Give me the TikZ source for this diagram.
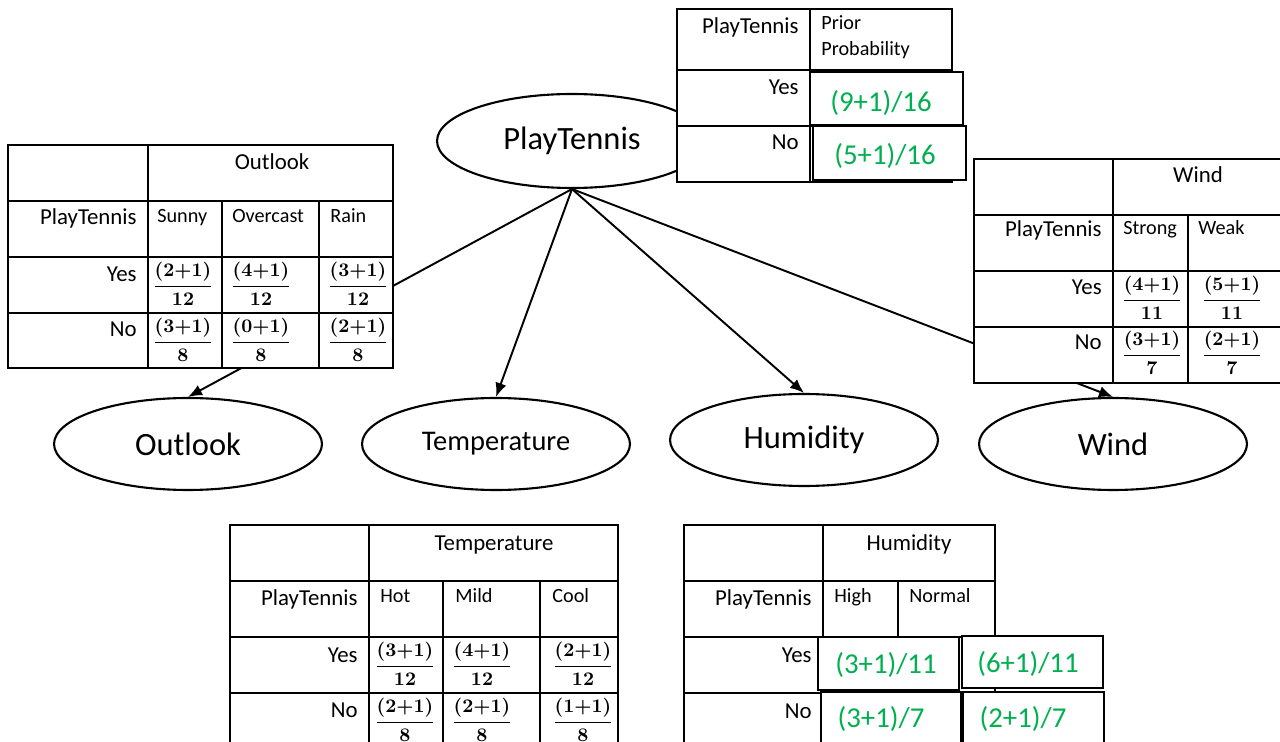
\documentclass[tikz,border=0pt]{standalone}
\usepackage{amsmath}
\usepackage{fontspec}
\setmainfont{Carlito}
\usetikzlibrary{shapes.geometric,arrows.meta}
\definecolor{probgreen}{RGB}{0,176,80}
\newcommand{\lapfrac}[2]{$\dfrac{(#1{+}1)}{#2}$}
\tikzset{
	var/.style={draw,ellipse,line width=1.2pt,inner sep=0pt,minimum width=5.36cm,minimum height=1.84cm,font=\fontsize{18.5}{22}\selectfont},
	tbl/.style={draw=black,line width=0.8pt,fill=white},
	grid/.style={draw=black,line width=0.8pt},
	txt/.style={inner sep=0pt,font=\fontsize{13}{15}\selectfont},
	sub/.style={inner sep=0pt,font=\fontsize{11.5}{13}\selectfont},
	frac/.style={inner sep=0pt,font=\fontsize{11}{13}\selectfont\boldmath},
	prob/.style={inner sep=0pt,text=probgreen,font=\fontsize{16.4}{19}\selectfont},
	link/.style={line width=1.1pt,-{Latex[length=8pt,width=6.5pt]}}
}
\begin{document}
\begin{tikzpicture}[x=0.02cm,y=-0.02cm]
	\useasboundingbox (0,0) rectangle (1280,742);
	\clip (0,0) rectangle (1280,742);
	\fill[white] (0,0) rectangle (1280,742);
	\node[var,minimum width=5.4cm,minimum height=1.88cm] (play) at (572,141) {PlayTennis};
	\node[var] (outlook) at (188,444) {Outlook};
	\node[var,font=\fontsize{16.2}{19}\selectfont] (temp) at (496,444) {Temperature};
	\node[var] (humid) at (804,440) {Humidity};
	\node[var] (wind) at (1113,444) {Wind};
	\draw[link] (play.south) -- (outlook.north);
	\draw[link] (play.south) -- (temp.north);
	\draw[link] (play.south) -- (humid.north);
	\draw[link] (play.south) -- (wind.north);

	\draw[tbl] (677,9) rectangle (952,182);
	\draw[grid] (810,9) -- (810,182);
	\draw[grid] (677,70) -- (952,70);
	\draw[grid] (677,126) -- (952,126);
	\draw[tbl] (810,72) rectangle (963,125);
	\draw[tbl] (813,126) rectangle (966,180);
	\node[txt,anchor=base east] at (799,34) {PlayTennis};
	\node[sub,anchor=base west] at (821,30) {Prior};
	\node[sub,anchor=base west] at (821,56) {Probability};
	\node[txt,anchor=base east] at (799,95) {Yes};
	\node[txt,anchor=base east] at (799,150) {No};
	\node[prob,anchor=base] at (881,112) {(9+1)/16};
	\node[prob,anchor=base] at (885,165) {(5+1)/16};

	\draw[tbl] (8,145) rectangle (393,368);
	\draw[grid] (148,145) -- (148,368);
	\draw[grid] (8,201) -- (393,201);
	\draw[grid] (8,257) -- (393,257);
	\draw[grid] (8,313) -- (393,313);
	\draw[grid] (222,201) -- (222,368);
	\draw[grid] (319,201) -- (319,368);
	\node[txt,anchor=base] at (272,170) {Outlook};
	\node[txt,anchor=base east] at (137,225) {PlayTennis};
	\node[sub,anchor=base west] at (157,223) {Sunny};
	\node[sub,anchor=base west] at (232,223) {Overcast};
	\node[sub,anchor=base west] at (330,223) {Rain};
	\node[txt,anchor=base east] at (137,282) {Yes};
	\node[txt,anchor=base east] at (137,337) {No};
	\node[frac] at (183,284) {\lapfrac{2}{12}};
	\node[frac] at (261,284) {\lapfrac{4}{12}};
	\node[frac] at (358,284) {\lapfrac{3}{12}};
	\node[frac] at (183,340) {\lapfrac{3}{8}};
	\node[frac] at (261,340) {\lapfrac{0}{8}};
	\node[frac] at (358,340) {\lapfrac{2}{8}};

	\draw[tbl] (974,159) rectangle (1300,383);
	\draw[grid] (1113,159) -- (1113,383);
	\draw[grid] (974,215) -- (1300,215);
	\draw[grid] (974,271) -- (1300,271);
	\draw[grid] (974,327) -- (1300,327);
	\draw[grid] (1188,215) -- (1188,383);
	\node[txt,anchor=base] at (1198,183) {Wind};
	\node[txt,anchor=base east] at (1102,237) {PlayTennis};
	\node[sub,anchor=base west] at (1123,235) {Strong};
	\node[sub,anchor=base west] at (1198,235) {Weak};
	\node[txt,anchor=base east] at (1102,295) {Yes};
	\node[txt,anchor=base east] at (1102,350) {No};
	\node[frac] at (1152,298) {\lapfrac{4}{11}};
	\node[frac] at (1232,298) {\lapfrac{5}{11}};
	\node[frac] at (1152,353) {\lapfrac{3}{7}};
	\node[frac] at (1232,353) {\lapfrac{2}{7}};

	\draw[tbl] (230,525) rectangle (618,760);
	\draw[grid] (369,525) -- (369,760);
	\draw[grid] (230,581) -- (618,581);
	\draw[grid] (230,637) -- (618,637);
	\draw[grid] (230,693) -- (618,693);
	\draw[grid] (443,581) -- (443,760);
	\draw[grid] (540,581) -- (540,760);
	\node[txt,anchor=base] at (494,550) {Temperature};
	\node[txt,anchor=base east] at (358,605) {PlayTennis};
	\node[sub,anchor=base west] at (380,602) {Hot};
	\node[sub,anchor=base west] at (455,602) {Mild};
	\node[sub,anchor=base west] at (552,602) {Cool};
	\node[txt,anchor=base east] at (358,662) {Yes};
	\node[txt,anchor=base east] at (358,717) {No};
	\node[frac] at (405,664) {\lapfrac{3}{12}};
	\node[frac] at (482,664) {\lapfrac{4}{12}};
	\node[frac] at (583,664) {\lapfrac{2}{12}};
	\node[frac] at (405,720) {\lapfrac{2}{8}};
	\node[frac] at (482,720) {\lapfrac{2}{8}};
	\node[frac] at (583,720) {\lapfrac{1}{8}};

	\draw[tbl] (684,525) rectangle (995,760);
	\draw[grid] (823,525) -- (823,760);
	\draw[grid] (684,581) -- (995,581);
	\draw[grid] (684,637) -- (995,637);
	\draw[grid] (684,693) -- (995,693);
	\draw[grid] (898,581) -- (898,760);
	\draw[tbl] (818,637) rectangle (959,690);
	\draw[tbl] (962,636) rectangle (1103,688);
	\draw[tbl] (821,692) rectangle (961,760);
	\draw[tbl] (963,692) rectangle (1104,760);
	\node[txt,anchor=base] at (909,550) {Humidity};
	\node[txt,anchor=base east] at (812,605) {PlayTennis};
	\node[sub,anchor=base west] at (834,602) {High};
	\node[sub,anchor=base west] at (909,602) {Normal};
	\node[txt,anchor=base east] at (812,662) {Yes};
	\node[txt,anchor=base east] at (812,718) {No};
	\node[prob,anchor=base] at (886,673) {(3+1)/11};
	\node[prob,anchor=base] at (1028,672) {(6+1)/11};
	\node[prob,anchor=base] at (881,727) {(3+1)/7};
	\node[prob,anchor=base] at (1023,727) {(2+1)/7};
\end{tikzpicture}
\end{document}
